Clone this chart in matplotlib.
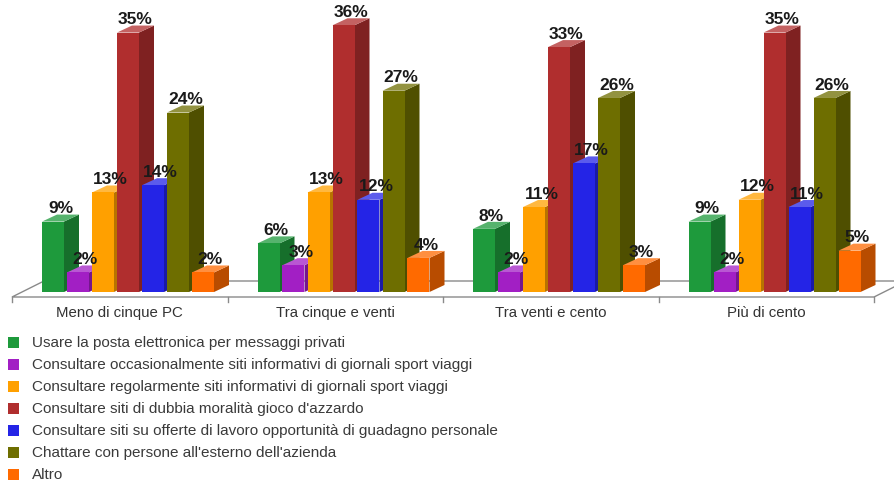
import numpy as np
import matplotlib.pyplot as plt
from matplotlib.patches import Polygon, Rectangle

# categories and series
groups = ["Meno di cinque PC", "Tra cinque e venti", "Tra venti e cento", "Più di cento"]
series = [
    "Usare la posta elettronica per messaggi privati",
    "Consultare occasionalmente siti informativi di giornali sport viaggi",
    "Consultare regolarmente siti informativi di giornali sport viaggi",
    "Consultare siti di dubbia moralità gioco d'azzardo",
    "Consultare siti su offerte di lavoro opportunità di guadagno personale",
    "Chattare con persone all'esterno dell'azienda",
    "Altro",
]
posta = [9, 6, 8, 9]
occasionale = [2, 3, 2, 2]
regolare = [13, 13, 11, 12]
azzardo = [35, 36, 33, 35]
lavoro = [14, 12, 17, 11]
chat = [24, 27, 26, 26]
altro = [2, 4, 3, 5]
values = [posta, occasionale, regolare, azzardo, lavoro, chat, altro]

colors = ["#1e9a3c", "#a21fc4", "#ffa000", "#b02e2e", "#2424e6", "#6e6e00", "#ff6a00"]

plt.rcParams["font.family"] = ["Liberation Sans", "DejaVu Sans"]

W, H = 894, 485
fig = plt.figure(figsize=(W / 100, H / 100), dpi=100)
ax = fig.add_axes([0, 0, 1, 1])

# pixel scale of the plot: one group = 215.5 px, one percent = 7.27 px
GPX = 215.5
PPX = 7.27
x0px, base_px = 12, 288
ax.set_xlim(-x0px / GPX, (W - x0px) / GPX)
ax.set_ylim(-(H - base_px) / PPX, base_px / PPX)
ax.axis("off")

bar_off = 30 / GPX
pitch = 25 / GPX
bw = 22 / GPX
dx = 15 / GPX
dy = 7 / PPX
bar_floor = -5 / PPX


def shade(c, f):
    r, g, b = plt.matplotlib.colors.to_rgb(c)
    if f < 1:
        return (r * f, g * f, b * f)
    return (r + (1 - r) * (f - 1), g + (1 - g) * (f - 1), b + (1 - b) * (f - 1))


# floor
fy_front = -10 / PPX
fy_back = 6 / PPX
fdx = 32 / GPX
n = len(groups)
floor = Polygon([(0, fy_front), (n, fy_front), (n + fdx, fy_back), (fdx, fy_back)],
                closed=True, facecolor="white", edgecolor="#8a8a8a", lw=1.0, zorder=1)
ax.add_patch(floor)
for g in range(n + 1):
    ax.plot([g, g], [fy_front, fy_front - 0.7], color="#8a8a8a", lw=1.0, zorder=1)

# bars, drawn left to right so each one hides the side of the previous
z = 2
for g in range(n):
    for s, vals in enumerate(values):
        h = vals[g]
        xl = g + bar_off + s * pitch
        xr = xl + bw
        c = colors[s]
        side = Polygon([(xr, bar_floor), (xr + dx, bar_floor + dy), (xr + dx, h + dy), (xr, h)],
                       closed=True, facecolor=shade(c, 0.72), edgecolor="none", zorder=z)
        top = Polygon([(xl, h), (xr, h), (xr + dx, h + dy), (xl + dx, h + dy)],
                      closed=True, facecolor=shade(c, 1.25), edgecolor="none", zorder=z)
        ax.add_patch(side)
        ax.add_patch(top)
        ax.bar(xl, h - bar_floor, bottom=bar_floor, width=bw, align="edge",
               color=c, edgecolor="none", zorder=z)
        ax.text(xl + bw / 2 + dx / 2, h + dy - 0.1, f"{h}%", ha="center", va="bottom",
                fontsize=12.5, fontweight="bold", color="#1a1a1a", zorder=50)
        z += 1

# category labels
for g, name in enumerate(groups):
    ax.text(g + 0.5, -(313 - base_px) / PPX, name, ha="center", va="center",
            fontsize=10.8, color="#333333")

# legend
row0, row_step = 343, 22
for s, name in enumerate(series):
    yc = row0 + s * row_step
    fig.patches.append(Rectangle((8 / W, 1 - (yc + 5.5) / H), 11 / W, 11 / H,
                                 transform=fig.transFigure, facecolor=colors[s],
                                 edgecolor="none"))
    fig.text(32 / W, 1 - yc / H, name, ha="left", va="center", fontsize=11, color="#3a3a3a")

fig.savefig("out.png", dpi=100)
